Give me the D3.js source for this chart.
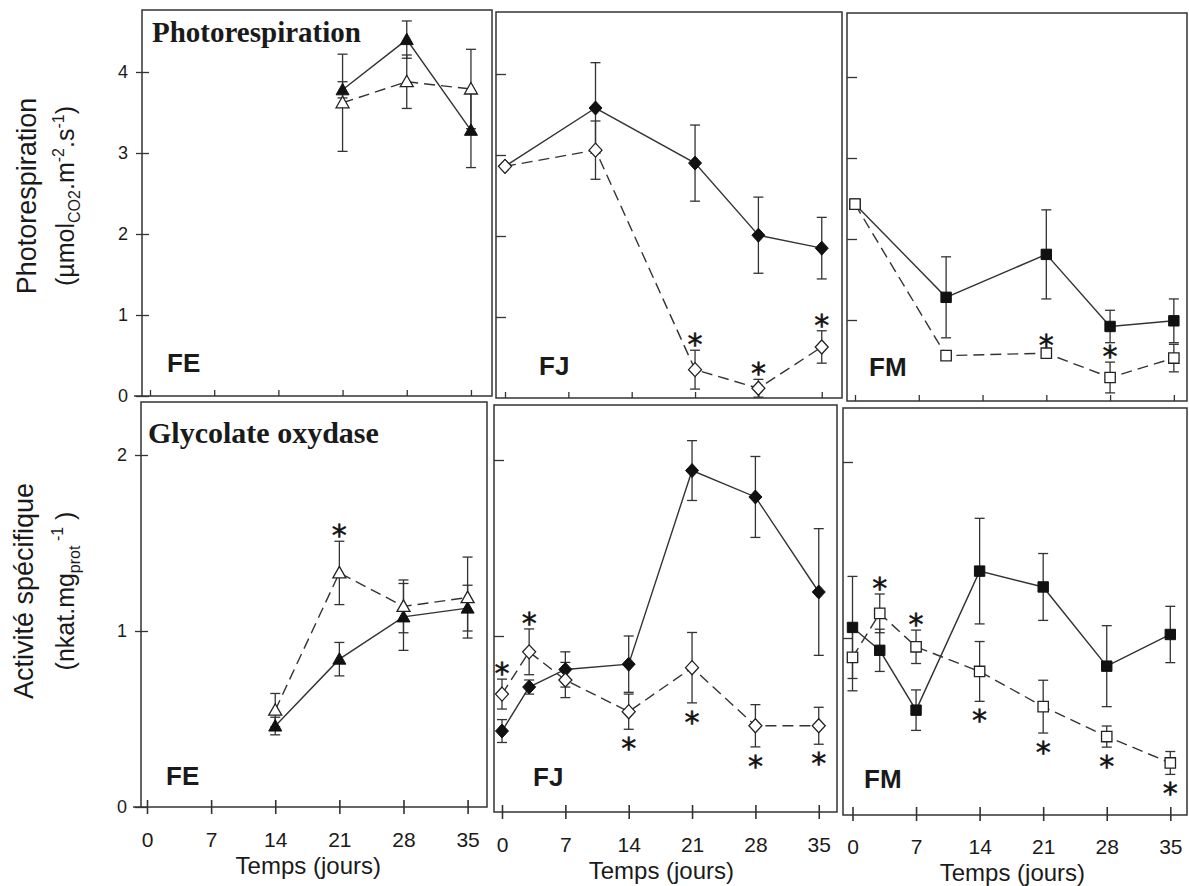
<!DOCTYPE html>
<html><head><meta charset="utf-8">
<script src="https://cdn.jsdelivr.net/npm/d3@7"></script>
<style>body{margin:0;background:#fff} svg{display:block}</style>
</head><body><svg id="c" width="1189" height="886"></svg>
<script>
// ---------- DATA ----------
const xTickValues = [0, 7, 14, 21, 28, 35];
const xTickLabels = ["0", "7", "14", "21", "28", "35"];
const prTickValues = [0, 1, 2, 3, 4];
const goTickValues = [0, 1, 2];
const panelNames = ["FE", "FJ", "FM"];
const rowTitles = ["Photorespiration", "Glycolate oxydase"];

// Photorespiration (top row)
const prFE_days = [21, 28, 35];
const prFE_filled = [3.78, 4.40, 3.28];
const prFE_filledErr = [0.10, 0.23, 0.46];
const prFE_open = [3.62, 3.88, 3.79];
const prFE_openErr = [0.60, 0.33, 0.49];
const prFE_stars = [];

const prFJ_days = [0, 10, 21, 28, 35];
const prFJ_filled = [2.86, 3.58, 2.90, 2.01, 1.85];
const prFJ_filledErr = [0, 0.56, 0.47, 0.47, 0.38];
const prFJ_open = [2.86, 3.06, 0.35, 0.12, 0.63];
const prFJ_openErr = [0, 0.36, 0.24, 0.11, 0.20];
const prFJ_stars = [[21, "above"], [28, "above"], [35, "above"]];

const prFM_days = [0, 10, 21, 28, 35];
const prFM_filled = [2.43, 1.28, 1.81, 0.92, 0.99];
const prFM_filledErr = [0, 0.50, 0.55, 0.20, 0.27];
const prFM_open = [2.43, 0.56, 0.59, 0.29, 0.53];
const prFM_openErr = [0, 0, 0.03, 0.19, 0.17];
const prFM_stars = [[21, "above"], [28, "above"]];

// Glycolate oxydase (bottom row)
const goFE_days = [14, 21, 28, 35];
const goFE_filled = [0.46, 0.84, 1.08, 1.13];
const goFE_filledErr = [0.05, 0.095, 0.19, 0.13];
const goFE_open = [0.55, 1.33, 1.14, 1.19];
const goFE_openErr = [0.095, 0.18, 0.15, 0.23];
const goFE_stars = [[21, "above"]];

const goFJ_days = [0, 3, 7, 14, 21, 28, 35];
const goFJ_filled = [0.46, 0.71, 0.81, 0.84, 1.94, 1.79, 1.25];
const goFJ_filledErr = [0.065, 0.04, 0.10, 0.16, 0.17, 0.23, 0.36];
const goFJ_open = [0.67, 0.91, 0.75, 0.57, 0.82, 0.49, 0.49];
const goFJ_openErr = [0.085, 0.13, 0.10, 0.10, 0.20, 0.12, 0.105];
const goFJ_stars = [[0, "above"], [3, "above"], [14, "below"], [21, "below"], [28, "below"], [35, "below"]];

const goFM_days = [0, 3, 7, 14, 21, 28, 35];
const goFM_filled = [1.06, 0.93, 0.59, 1.38, 1.29, 0.84, 1.02];
const goFM_filledErr = [0.29, 0.12, 0.115, 0.30, 0.19, 0.23, 0.16];
const goFM_open = [0.89, 1.14, 0.95, 0.81, 0.61, 0.44, 0.29];
const goFM_openErr = [0.19, 0.11, 0.095, 0.17, 0.15, 0.06, 0.065];
const goFM_stars = [[3, "above"], [7, "above"], [14, "below"], [21, "below"], [28, "below"], [35, "below"]];

// ---------- LAYOUT ----------
const panels = [
  {row:0, col:0, days:prFE_days, f:prFE_filled, fe:prFE_filledErr, o:prFE_open, oe:prFE_openErr, stars:prFE_stars, marker:"tri",
   box:[142,492,10,396], x0:150, ppd:9.17, y0:396, lab:[167,372]},
  {row:0, col:1, days:prFJ_days, f:prFJ_filled, fe:prFJ_filledErr, o:prFJ_open, oe:prFJ_openErr, stars:prFJ_stars, marker:"dia",
   box:[496,842,12,398], x0:505, ppd:9.05, y0:398, lab:[539,375]},
  {row:0, col:2, days:prFM_days, f:prFM_filled, fe:prFM_filledErr, o:prFM_open, oe:prFM_openErr, stars:prFM_stars, marker:"sq",
   box:[847,1187,13,401], x0:855, ppd:9.11, y0:401, lab:[869,376]},
  {row:1, col:0, days:goFE_days, f:goFE_filled, fe:goFE_filledErr, o:goFE_open, oe:goFE_openErr, stars:goFE_stars, marker:"tri",
   box:[141,487,402,807], x0:147, ppd:9.16, y0:807, lab:[166,785]},
  {row:1, col:1, days:goFJ_days, f:goFJ_filled, fe:goFJ_filledErr, o:goFJ_open, oe:goFJ_openErr, stars:goFJ_stars, marker:"dia",
   box:[494,837,405,812], x0:502, ppd:9.05, y0:812, lab:[533,786]},
  {row:1, col:2, days:goFM_days, f:goFM_filled, fe:goFM_filledErr, o:goFM_open, oe:goFM_openErr, stars:goFM_stars, marker:"sq",
   box:[843,1187,408,815], x0:852.5, ppd:9.08, y0:814, lab:[864,788]}
];

const INK = "#1a1a1a", LINE = "#333";
const SANS = "'Liberation Sans', Arial, sans-serif";
const SERIF = "'Liberation Serif', 'Times New Roman', serif";
const svg = d3.select("#c");
svg.append("rect").attr("width",1189).attr("height",886).attr("fill","#fff");

function markerPath(type, cx, cy){
  if(type==="tri") return `M${cx},${cy-6.5}L${cx+6.5},${cy+5}L${cx-6.5},${cy+5}Z`;
  if(type==="dia") return `M${cx},${cy-7}L${cx+6.5},${cy}L${cx},${cy+7}L${cx-6.5},${cy}Z`;
  return `M${cx-5.2},${cy-5.2}h10.4v10.4h-10.4Z`;
}

panels.forEach(p => {
  const g = svg.append("g");
  const x = d3.scaleLinear().domain([0,35]).range([p.x0, p.x0 + 35*p.ppd]);
  const y = p.row===0
    ? d3.scaleLinear().domain([0,4]).range([p.y0, p.y0 - 4*81])
    : d3.scaleLinear().domain([0,2]).range([p.y0, p.y0 - 2*176]);

  // frame
  g.append("rect").attr("x",p.box[0]).attr("y",p.box[2])
    .attr("width",p.box[1]-p.box[0]).attr("height",p.box[3]-p.box[2])
    .attr("fill","none").attr("stroke",LINE).attr("stroke-width",1.5);

  // y axis
  if(p.col===0){
    g.append("line").attr("x1",p.box[0]-8).attr("x2",p.box[0]).attr("y1",p.y0).attr("y2",p.y0)
      .attr("stroke",LINE).attr("stroke-width",1.5);
    const ya = d3.axisLeft(y).tickValues(p.row===0?prTickValues:goTickValues)
      .tickFormat(d3.format("d")).tickSize(13).tickPadding(8);
    const ag = g.append("g").attr("transform",`translate(${p.box[0]+7},0)`).call(ya);
    ag.select(".domain").remove();
    ag.selectAll("line").attr("stroke",LINE).attr("stroke-width",1.3);
    ag.selectAll("text").attr("font-family",SANS).attr("font-size",18).attr("fill",INK);
  } else {
    const ya = d3.axisRight(y).tickValues(p.row===0?[1,2,3,4]:[1,2]).tickFormat("").tickSize(10);
    const ag = g.append("g").attr("transform",`translate(${p.box[0]},0)`).call(ya);
    ag.select(".domain").remove();
    ag.selectAll("line").attr("stroke",LINE).attr("stroke-width",1.3);
  }

  // x axis
  if(p.row===0){
    const xa = d3.axisTop(x).tickValues(xTickValues).tickFormat("").tickSize(6);
    const ag = g.append("g").attr("transform",`translate(0,${p.y0})`).call(xa);
    ag.select(".domain").remove();
    ag.selectAll("line").attr("stroke",LINE).attr("stroke-width",1.3);
  } else {
    const xa = d3.axisBottom(x).tickValues(xTickValues)
      .tickFormat((d,i)=>xTickLabels[i]).tickSize(14).tickPadding(18);
    const ag = g.append("g").attr("transform",`translate(0,${p.y0-7})`).call(xa);
    ag.select(".domain").remove();
    ag.selectAll("line").attr("stroke",LINE).attr("stroke-width",1.6);
    ag.selectAll("text").attr("font-family",SANS).attr("font-size",21).attr("fill",INK);
    g.append("text").attr("x",(x(0)+x(35))/2+1).attr("y",p.y0+67)
      .attr("text-anchor","middle").attr("font-family",SANS).attr("font-size",24).attr("fill",INK)
      .text("Temps (jours)");
  }

  // panel label
  g.append("text").attr("x",p.lab[0]).attr("y",p.lab[1]).attr("font-family",SANS)
    .attr("font-weight","bold").attr("font-size",26).attr("fill",INK).text(panelNames[p.col]);

  const fData = p.days.map((d,i)=>({d, v:p.f[i], e:p.fe[i]}));
  const oData = p.days.map((d,i)=>({d, v:p.o[i], e:p.oe[i]}));
  const line = d3.line().x(d=>x(d.d)).y(d=>y(d.v));

  g.append("path").attr("d",line(fData)).attr("fill","none").attr("stroke",LINE).attr("stroke-width",1.4);
  g.append("path").attr("d",line(oData)).attr("fill","none").attr("stroke",LINE).attr("stroke-width",1.4)
    .attr("stroke-dasharray","11,6");

  [fData,oData].forEach(data=>{
    data.filter(d=>d.e>0).forEach(d=>{
      const cx = x(d.d), t = y(d.v+d.e), b = y(d.v-d.e);
      g.append("line").attr("x1",cx).attr("x2",cx).attr("y1",t).attr("y2",b).attr("stroke",LINE).attr("stroke-width",1.3);
      [t,b].forEach(yy=>g.append("line").attr("x1",cx-5).attr("x2",cx+5).attr("y1",yy).attr("y2",yy)
        .attr("stroke",LINE).attr("stroke-width",1.3));
    });
  });

  fData.forEach(d=>g.append("path").attr("d",markerPath(p.marker,x(d.d),y(d.v)))
    .attr("fill","#111").attr("stroke","#111").attr("stroke-width",1));
  oData.forEach(d=>g.append("path").attr("d",markerPath(p.marker,x(d.d),y(d.v)))
    .attr("fill","#fff").attr("stroke","#222").attr("stroke-width",1.3));

  // significance stars
  p.stars.forEach(([day,pos])=>{
    const d = oData.find(o=>o.d===day);
    const cy = pos==="above" ? y(d.v+d.e)-12 : y(d.v-d.e)+13;
    g.append("text").attr("x",x(day)).attr("y",cy+17).attr("text-anchor","middle")
      .attr("font-family","'DejaVu Sans', sans-serif").attr("font-size",30)
      .attr("fill","#111").attr("stroke","#111").attr("stroke-width",0.5)
      .attr("text-rendering","geometricPrecision").text("*");
  });
});

// row titles
svg.append("text").attr("x",152).attr("y",41.5).attr("font-family",SERIF).attr("font-weight","bold")
  .attr("font-size",29).attr("fill",INK).text(rowTitles[0]);
svg.append("text").attr("x",148).attr("y",443).attr("font-family",SERIF).attr("font-weight","bold")
  .attr("font-size",30).attr("fill",INK).text(rowTitles[1]);

// y-axis titles
function yTitle(cx, cy, size, build){
  const t = svg.append("text").attr("transform",`translate(${cx},${cy}) rotate(-90)`)
    .attr("text-anchor","middle").attr("font-family",SANS).attr("font-size",size).attr("fill",INK);
  build(t);
}
yTitle(36,196,27,t=>t.text("Photorespiration"));
yTitle(74,196,25,t=>{
  t.append("tspan").text("(µmol");
  t.append("tspan").attr("font-size",16).attr("dy",6).text("CO2");
  t.append("tspan").attr("dy",-6).text(".m");
  t.append("tspan").attr("font-size",16).attr("dy",-10).text("-2");
  t.append("tspan").attr("dy",10).text(".s");
  t.append("tspan").attr("font-size",16).attr("dy",-10).text("-1");
  t.append("tspan").attr("dy",10).text(")");
});
yTitle(33,591,27,t=>t.text("Activité spécifique"));
yTitle(74,591,25,t=>{
  t.append("tspan").text("(nkat.mg");
  t.append("tspan").attr("font-size",16).attr("dy",6).text("prot");
  t.append("tspan").attr("font-size",16).attr("dy",-17).text(" -1");
  t.append("tspan").attr("dy",11).text(" )");
});
</script></body></html>
